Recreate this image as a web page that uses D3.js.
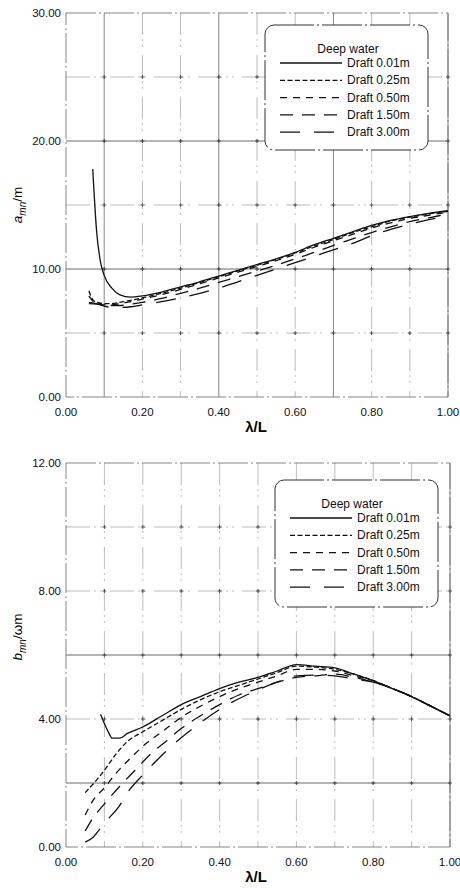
<!DOCTYPE html>
<html lang="en">
    <head>
        <meta charset="UTF-8" />
        <title>Added mass and damping vs wave length</title>
        <script src="https://d3js.org/d3.v7.min.js"></script>
        <style>
            body {
                margin: 0;
                background: #fff;
                font-family: "Liberation Sans", Arial, sans-serif;
            }
            .tick-label {
                font-size: 11.5px;
                fill: #111;
            }
            .legend text {
                font-size: 12px;
                fill: #111;
            }
        </style>
    </head>
    <body>
        <svg width="460" height="888"></svg>

        <script>
            const drafts = ["Draft 0.01m", "Draft 0.25m", "Draft 0.50m", "Draft 1.50m", "Draft 3.00m"];
            const dashes = [null, "5,2.5", "7,6", "13,9", "20,14"];

            // a_mn/m  -- [lambda/L, value]
            const aDraft001 = [[0.07,17.8],[0.08,13.0],[0.09,10.6],[0.10,9.5],[0.12,8.5],[0.14,8.0],[0.17,7.8],[0.20,7.9],[0.25,8.2],[0.30,8.6],[0.35,9.0],[0.40,9.45],[0.45,9.9],[0.50,10.35],[0.55,10.8],[0.60,11.3],[0.65,11.9],[0.70,12.4],[0.75,12.9],[0.80,13.4],[0.85,13.8],[0.90,14.1],[0.95,14.35],[1.00,14.55]];
            const aDraft025 = [[0.06,8.3],[0.07,7.6],[0.08,7.4],[0.10,7.3],[0.12,7.3],[0.14,7.4],[0.17,7.55],[0.20,7.75],[0.25,8.1],[0.30,8.5],[0.35,8.95],[0.40,9.4],[0.45,9.85],[0.50,10.3],[0.55,10.75],[0.60,11.25],[0.65,11.8],[0.70,12.3],[0.75,12.85],[0.80,13.3],[0.85,13.75],[0.90,14.05],[0.95,14.3],[1.00,14.5]];
            const aDraft050 = [[0.06,7.9],[0.07,7.5],[0.08,7.35],[0.10,7.2],[0.12,7.2],[0.14,7.3],[0.17,7.45],[0.20,7.65],[0.25,8.0],[0.30,8.4],[0.35,8.85],[0.40,9.3],[0.45,9.75],[0.50,10.2],[0.55,10.65],[0.60,11.15],[0.65,11.7],[0.70,12.2],[0.75,12.7],[0.80,13.2],[0.85,13.6],[0.90,13.95],[0.95,14.2],[1.00,14.45]];
            const aDraft150 = [[0.06,7.4],[0.08,7.3],[0.10,7.2],[0.12,7.15],[0.14,7.15],[0.17,7.25],[0.20,7.4],[0.25,7.7],[0.30,8.1],[0.35,8.5],[0.40,8.95],[0.45,9.4],[0.50,9.85],[0.55,10.3],[0.60,10.8],[0.65,11.3],[0.70,11.85],[0.75,12.35],[0.80,12.85],[0.85,13.3],[0.90,13.7],[0.95,14.0],[1.00,14.3]];
            const aDraft300 = [[0.06,7.3],[0.08,7.25],[0.10,7.1],[0.12,7.0],[0.14,7.0],[0.17,7.05],[0.20,7.2],[0.25,7.45],[0.30,7.75],[0.35,8.1],[0.40,8.5],[0.45,9.0],[0.50,9.5],[0.55,10.0],[0.60,10.5],[0.65,11.0],[0.70,11.5],[0.75,12.0],[0.80,12.6],[0.85,13.1],[0.90,13.5],[0.95,13.85],[1.00,14.15]];

            // b_mn/(omega m)
            const bDraft001 = [[0.09,4.15],[0.11,3.6],[0.12,3.4],[0.14,3.4],[0.16,3.55],[0.20,3.75],[0.25,4.1],[0.30,4.45],[0.35,4.7],[0.40,4.95],[0.45,5.15],[0.50,5.3],[0.55,5.5],[0.60,5.7],[0.65,5.65],[0.70,5.6],[0.75,5.4],[0.80,5.2],[0.85,4.95],[0.90,4.7],[0.95,4.4],[1.00,4.1]];
            const bDraft025 = [[0.05,1.7],[0.08,2.1],[0.10,2.4],[0.13,2.9],[0.16,3.3],[0.20,3.6],[0.25,3.95],[0.30,4.3],[0.35,4.6],[0.40,4.85],[0.45,5.05],[0.50,5.25],[0.55,5.45],[0.60,5.65],[0.65,5.62],[0.70,5.55],[0.75,5.4],[0.80,5.2],[0.85,4.95],[0.90,4.7],[0.95,4.4],[1.00,4.1]];
            const bDraft050 = [[0.05,1.0],[0.07,1.45],[0.10,1.85],[0.13,2.3],[0.17,2.8],[0.21,3.25],[0.25,3.6],[0.30,4.05],[0.35,4.4],[0.40,4.7],[0.45,4.95],[0.50,5.15],[0.55,5.35],[0.60,5.55],[0.65,5.55],[0.70,5.5],[0.75,5.35],[0.80,5.2],[0.85,4.95],[0.90,4.7],[0.95,4.4],[1.00,4.1]];
            const bDraft150 = [[0.05,0.5],[0.07,0.9],[0.10,1.35],[0.14,1.9],[0.18,2.4],[0.22,2.9],[0.26,3.3],[0.30,3.7],[0.35,4.1],[0.40,4.45],[0.45,4.75],[0.50,4.95],[0.55,5.15],[0.60,5.3],[0.65,5.35],[0.70,5.4],[0.75,5.3],[0.80,5.15],[0.85,4.95],[0.90,4.7],[0.95,4.4],[1.00,4.1]];
            const bDraft300 = [[0.05,0.15],[0.07,0.3],[0.10,0.75],[0.14,1.3],[0.16,1.7],[0.20,2.25],[0.24,2.75],[0.27,3.1],[0.33,3.7],[0.40,4.3],[0.47,4.75],[0.55,5.15],[0.60,5.35],[0.65,5.37],[0.70,5.35],[0.75,5.25],[0.80,5.15],[0.85,4.95],[0.90,4.7],[0.95,4.4],[1.00,4.1]];

            const xTicks = [0, 0.2, 0.4, 0.6, 0.8, 1.0];
            const xGrid = [0.1, 0.2, 0.3, 0.4, 0.5, 0.6, 0.7, 0.8, 0.9, 1.0];
            const aTicks = [0, 10, 20, 30];
            const aGrid = [5, 10, 15, 20, 25];
            const bTicks = [0, 4, 8, 12];
            const bGrid = [2, 4, 6, 8, 10];

            const svg = d3.select("svg");

            function drawPanel(cfg) {
                const x = d3.scaleLinear().domain([0, 1]).range([66, cfg.right]);
                const y = d3.scaleLinear().domain(cfg.yDomain).range([cfg.bottom, cfg.top]);
                const g = svg.append("g");

                // grid (scanned look: broken dash-dot lines)
                g.selectAll(".vgrid")
                    .data(xGrid)
                    .enter()
                    .append("line")
                    .attr("x1", (d) => x(d))
                    .attr("x2", (d) => x(d))
                    .attr("y1", y(cfg.yDomain[1]))
                    .attr("y2", y(cfg.yDomain[0]))
                    .attr("stroke", (d) => (cfg.solidX.includes(d) ? "#666" : "#aaa"))
                    .attr("stroke-width", 0.8)
                    .attr("stroke-dasharray", (d) => (cfg.solidX.includes(d) ? null : "22,4,2,4,2,8"));

                g.selectAll(".hgrid")
                    .data(cfg.yGrid)
                    .enter()
                    .append("line")
                    .attr("x1", x(0))
                    .attr("x2", x(1))
                    .attr("y1", (d) => y(d))
                    .attr("y2", (d) => y(d))
                    .attr("stroke", (d) => (cfg.solidY.includes(d) ? "#444" : "#aaa"))
                    .attr("stroke-width", 0.8)
                    .attr("stroke-dasharray", (d) => (cfg.solidY.includes(d) ? null : "24,4,2,4,2,8"));

                // little + marks at grid crossings
                const crosses = [];
                xGrid.forEach((xv) => cfg.yGrid.forEach((yv) => crosses.push([xv, yv])));
                g.selectAll(".cross")
                    .data(crosses)
                    .enter()
                    .append("path")
                    .attr("d", (d) => `M${x(d[0]) - 2},${y(d[1])}h4M${x(d[0])},${y(d[1]) - 2}v4`)
                    .attr("stroke", "#333")
                    .attr("stroke-width", 0.8);

                // frame
                g.append("rect")
                    .attr("x", x(0))
                    .attr("y", y(cfg.yDomain[1]))
                    .attr("width", x(1) - x(0))
                    .attr("height", y(cfg.yDomain[0]) - y(cfg.yDomain[1]))
                    .attr("fill", "none")
                    .attr("stroke", "#777")
                    .attr("stroke-width", 0.9)
                    .attr("stroke-dasharray", "30,3,2,3");

                // tick labels
                g.selectAll(".ylab")
                    .data(cfg.yTicks)
                    .enter()
                    .append("text")
                    .attr("class", "tick-label")
                    .attr("x", 61)
                    .attr("y", (d) => y(d) + 4)
                    .attr("text-anchor", "end")
                    .text((d) => d3.format(".2f")(d));

                g.selectAll(".xlab")
                    .data(xTicks)
                    .enter()
                    .append("text")
                    .attr("class", "tick-label")
                    .attr("x", (d) => x(d))
                    .attr("y", cfg.bottom + 19)
                    .attr("text-anchor", "middle")
                    .text((d) => d3.format(".2f")(d));

                // axis titles
                g.append("text")
                    .attr("x", 256)
                    .attr("y", cfg.bottom + 35)
                    .attr("text-anchor", "middle")
                    .attr("font-size", 15)
                    .attr("font-weight", "bold")
                    .text("λ/L");

                const yt = g
                    .append("text")
                    .attr("transform", `translate(22,${cfg.yTitleY}) rotate(-90)`)
                    .attr("text-anchor", "middle")
                    .attr("font-size", 13.5);
                yt.append("tspan").attr("font-style", "italic").text(cfg.yTitle[0]);
                yt.append("tspan").attr("font-style", "italic").attr("font-size", 10).attr("dy", 4).text("mn");
                yt.append("tspan").attr("dy", -4).text(cfg.yTitle[1]);

                // curves
                const line = d3
                    .line()
                    .x((d) => x(d[0]))
                    .y((d) => y(d[1]))
                    .curve(d3.curveMonotoneX);

                g.selectAll(".curve")
                    .data(cfg.series)
                    .enter()
                    .append("path")
                    .attr("d", line)
                    .attr("fill", "none")
                    .attr("stroke", "#111")
                    .attr("stroke-width", 1.3)
                    .attr("stroke-dasharray", (d, i) => dashes[i]);

                // legend
                const lg = g.append("g").attr("class", "legend");
                const L = cfg.legend;
                lg.append("rect")
                    .attr("x", L.x)
                    .attr("y", L.y)
                    .attr("width", L.w)
                    .attr("height", L.h)
                    .attr("rx", 9)
                    .attr("fill", "#fff")
                    .attr("stroke", "#333")
                    .attr("stroke-width", 1)
                    .attr("stroke-dasharray", "40,3,2,3");
                lg.append("text")
                    .attr("x", L.titleX)
                    .attr("y", L.y + 28)
                    .attr("text-anchor", "middle")
                    .attr("font-size", 13.5)
                    .text("Deep water");
                drafts.forEach((name, i) => {
                    const ry = L.y + 38 + i * 17.3;
                    lg.append("line")
                        .attr("x1", L.lineX)
                        .attr("x2", L.lineX + 62)
                        .attr("y1", ry)
                        .attr("y2", ry)
                        .attr("stroke", "#111")
                        .attr("stroke-width", 1.3)
                        .attr("stroke-dasharray", dashes[i]);
                    lg.append("text")
                        .attr("x", L.lineX + 67)
                        .attr("y", ry + 4)
                        .text(name);
                });
            }

            drawPanel({
                top: 13,
                bottom: 397,
                right: 448,
                yDomain: [0, 30],
                yTicks: aTicks,
                yGrid: aGrid,
                solidX: [0.1, 0.4, 0.7, 1.0],
                solidY: [10, 20],
                yTitle: ["a", "/m"],
                yTitleY: 205,
                series: [aDraft001, aDraft025, aDraft050, aDraft150, aDraft300],
                legend: { x: 265, y: 25, w: 163, h: 125, titleX: 348, lineX: 280 }
            });

            drawPanel({
                top: 463,
                bottom: 847,
                right: 450,
                yDomain: [0, 12],
                yTicks: bTicks,
                yGrid: bGrid,
                solidX: [1.0],
                solidY: [2, 6],
                yTitle: ["b", "/ωm"],
                yTitleY: 637,
                series: [bDraft001, bDraft025, bDraft050, bDraft150, bDraft300],
                legend: { x: 275, y: 480, w: 163, h: 127, titleX: 352, lineX: 290 }
            });
        </script>
    </body>
</html>
